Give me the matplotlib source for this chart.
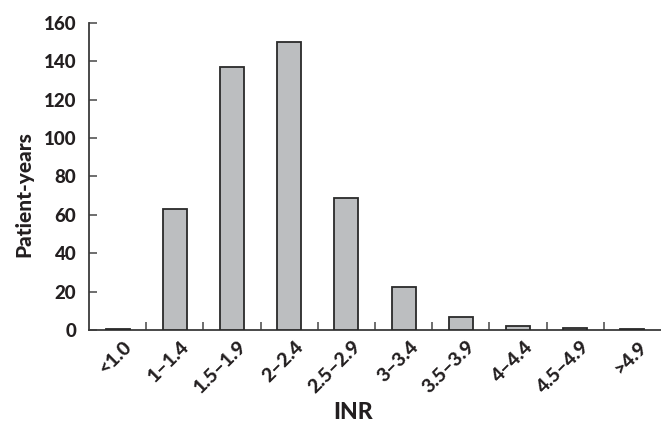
import matplotlib
matplotlib.use("Agg")
import matplotlib.pyplot as plt
import numpy as np

# INR ranges and patient-years
inr_bins = ["<1.0", "1\u20131.4", "1.5\u20131.9", "2\u20132.4", "2.5\u20132.9",
            "3\u20133.4", "3.5\u20133.9", "4\u20134.4", "4.5\u20134.9", ">4.9"]
patient_years = [0.5, 63.2, 137.0, 150.2, 68.9, 22.2, 6.8, 2.0, 1.0, 0.5]
y_ticks = [0, 20, 40, 60, 80, 100, 120, 140, 160]

plt.rcParams['font.family'] = ['Lato', 'DejaVu Sans']
W = 900
TXT = '#231f20'

fig = plt.figure(figsize=(6.61, 4.26), dpi=100)
ax = fig.add_axes([0.1346, 0.2254, 0.8654, 0.7206])

x = np.arange(len(inr_bins))
ax.bar(x, patient_years, width=0.42, color='#bcbec0', edgecolor='#2a2a2a',
       linewidth=1.3, zorder=3)

ax.set_xlim(-0.5, len(inr_bins) - 0.5)
ax.set_ylim(0, 160)

# y axis
ax.set_yticks(y_ticks)
ax.set_yticklabels([str(v) for v in y_ticks], fontsize=13.5, fontweight=W)
ax.tick_params(axis='y', direction='in', length=6, width=1.2, pad=9,
               color='#555555', labelcolor=TXT)

# x axis: ticks between the bars, labels under the bars
ax.set_xticks(x[:-1] + 0.5)
ax.set_xticklabels([])
ax.tick_params(axis='x', direction='in', length=6, width=1.2, color='#555555')
for xi, lab in zip(x, inr_bins):
    ax.text(xi + 0.1, -4, lab, rotation=45, rotation_mode='anchor',
            ha='right', va='top', fontsize=14, fontweight=W,
            color=TXT, transform=ax.transData, clip_on=False)

for s in ['top', 'right']:
    ax.spines[s].set_visible(False)
for s in ['left', 'bottom']:
    ax.spines[s].set_linewidth(1.3)
    ax.spines[s].set_color('#3a3a3a')

ax.set_ylabel('Patient-years', fontsize=15, fontweight=W, color=TXT)
ax.yaxis.set_label_coords(-0.098, 0.443)
ax.set_xlabel('INR', fontsize=16.5, fontweight=W, color=TXT)
ax.xaxis.set_label_coords(0.4625, -0.236)

fig.savefig('out.png', dpi=100)
